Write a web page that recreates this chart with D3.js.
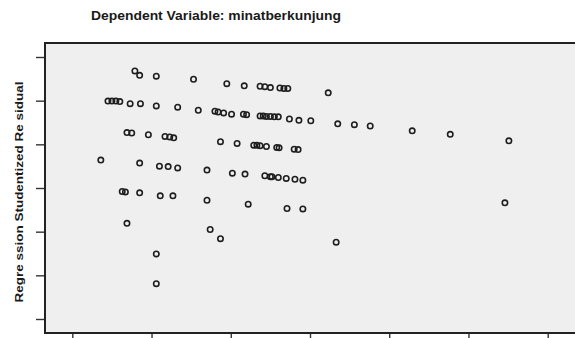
<!DOCTYPE html>
<html>
<head>
<meta charset="utf-8">
<script src="https://cdn.jsdelivr.net/npm/d3@7"></script>
<style>
  html, body { margin: 0; padding: 0; background: #fff; overflow: hidden; }
  text { font-family: "Liberation Sans", Arial, sans-serif; }
</style>
</head>
<body>
<div id="chart"></div>
<script>
// standardized predicted value (x) and studentized residual (y)
const predicted = [
  -1.21, -1.15, -0.94, -0.47, -0.05, 0.17, 0.37, 0.43, 0.50, 0.62, 0.67, 0.72, 1.23,
  -1.55, -1.50, -1.45, -1.40, -1.27, -1.14, -0.94, -0.67, -0.41, -0.20, -0.16, -0.09,
  0.01, 0.16, 0.20, 0.37, 0.41, 0.45, 0.50, 0.55, 0.60, 0.74, 0.86, 1.01, 1.35, 1.56,
  1.76, 2.29, 2.77, 3.51,
  -1.31, -1.25, -1.04, -0.83, -0.77, -0.72, -0.13, 0.08, 0.29, 0.33, 0.37, 0.45, 0.58,
  0.61, 0.80, 0.85,
  -1.64, -1.15, -0.90, -0.79, -0.67, -0.30, 0.02, 0.18, 0.43, 0.50, 0.52, 0.60, 0.70,
  0.81, 0.91, 3.46,
  -1.37, -1.33, -1.15, -0.89, -0.73, -0.30, 0.22, 0.71, 0.91,
  -1.31, -0.26, -0.13, 1.33,
  -0.94, -0.94
];
const residual = [
  1.68, 1.58, 1.56, 1.49, 1.39, 1.34, 1.33, 1.32, 1.30, 1.29, 1.28, 1.28, 1.18,
  0.99, 0.99, 0.99, 0.98, 0.93, 0.93, 0.88, 0.85, 0.78, 0.76, 0.74, 0.72,
  0.69, 0.69, 0.68, 0.65, 0.65, 0.64, 0.64, 0.63, 0.63, 0.58, 0.55, 0.54, 0.47, 0.45,
  0.42, 0.31, 0.23, 0.08,
  0.27, 0.26, 0.22, 0.18, 0.17, 0.15, 0.06, 0.02, -0.02, -0.02, -0.03, -0.05, -0.07,
  -0.08, -0.11, -0.12,
  -0.36, -0.43, -0.50, -0.51, -0.54, -0.59, -0.66, -0.68, -0.72, -0.74, -0.74, -0.76, -0.78,
  -0.80, -0.82, -1.34,
  -1.08, -1.09, -1.11, -1.18, -1.18, -1.28, -1.37, -1.47, -1.48,
  -1.81, -1.95, -2.16, -2.24,
  -2.51, -3.19
];
const xTicks = [-2, -1, 0, 1, 2, 3, 4];
const yTicks = [-4, -3, -2, -1, 0, 1, 2];
const title = 'Dependent Variable: minatberkunjung';
const yLabel = 'Regre ssion  Studentized  Re sidual';

const width = 575, height = 338;
const frame = { left: 45, top: 43, right: 592, bottom: 333 };

const svg = d3.select('#chart')
  .append('svg')
  .attr('width', width)
  .attr('height', height);

const x = d3.scaleLinear().domain([-2, 4]).range([72.3, 547.7]);
const y = d3.scaleLinear().domain([-4, 2]).range([319, 57]);

// plot area
svg.append('rect')
  .attr('x', frame.left)
  .attr('y', frame.top)
  .attr('width', frame.right - frame.left)
  .attr('height', frame.bottom - frame.top)
  .attr('fill', '#efefef')
  .attr('stroke', '#222')
  .attr('stroke-width', 2);

const yAxis = d3.axisLeft(y).tickValues(yTicks).tickSize(8).tickFormat('');
svg.append('g')
  .attr('transform', `translate(${frame.left - 1},0)`)
  .call(yAxis)
  .call(g => g.select('.domain').remove())
  .call(g => g.selectAll('line').attr('stroke', '#333').attr('stroke-width', 1.4));

const xAxis = d3.axisBottom(x).tickValues(xTicks).tickSize(8).tickFormat('');
svg.append('g')
  .attr('transform', `translate(0,${frame.bottom + 1})`)
  .call(xAxis)
  .call(g => g.select('.domain').remove())
  .call(g => g.selectAll('line').attr('stroke', '#333').attr('stroke-width', 1.4));

// points
svg.append('g')
  .selectAll('circle')
  .data(predicted.map((p, i) => ({ p, r: residual[i] })))
  .enter()
  .append('circle')
  .attr('cx', d => x(d.p))
  .attr('cy', d => y(d.r))
  .attr('r', 2.7)
  .attr('fill', 'none')
  .attr('stroke', '#1e1e1e')
  .attr('stroke-width', 1.6);

svg.append('text')
  .attr('x', 91)
  .attr('y', 20)
  .attr('font-size', 12)
  .attr('font-weight', 'bold')
  .attr('fill', '#1a1a1a')
  .attr('textLength', 250)
  .attr('lengthAdjust', 'spacingAndGlyphs')
  .text(title);

svg.append('text')
  .attr('transform', 'translate(23,192) rotate(-90)')
  .attr('text-anchor', 'middle')
  .attr('font-size', 10)
  .attr('font-weight', 'bold')
  .attr('fill', '#1a1a1a')
  .attr('textLength', 221)
  .attr('lengthAdjust', 'spacingAndGlyphs')
  .text(yLabel);
</script>
</body>
</html>
